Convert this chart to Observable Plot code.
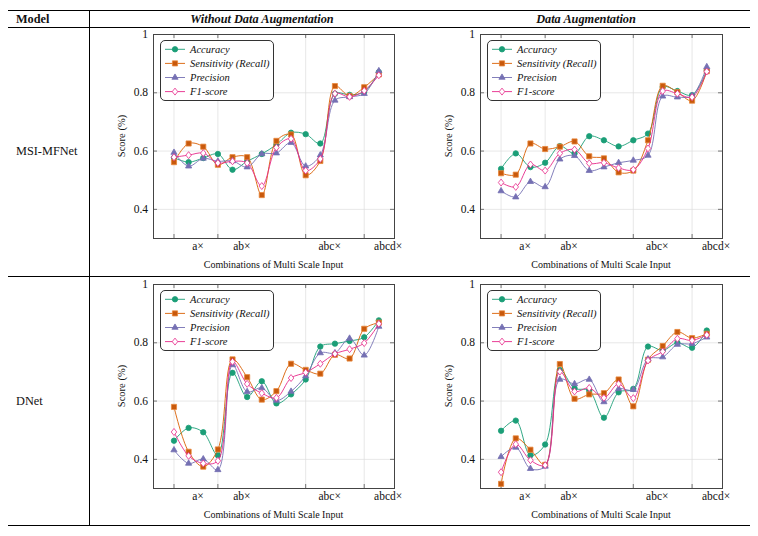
<!DOCTYPE html>
<html><head><meta charset="utf-8">
<script src="https://cdn.jsdelivr.net/npm/d3@7"></script>
<script src="https://cdn.jsdelivr.net/npm/@observablehq/plot@0.6"></script>
<style>
body{margin:0;background:#fff;}
#page{position:relative;width:758px;height:536px;font-family:"Liberation Serif","Times New Roman",serif;color:#111;overflow:hidden;background:#fff}
#page div{position:absolute;white-space:nowrap;line-height:1}
#page svg text{font-family:"Liberation Serif","Times New Roman",serif !important}
</style></head><body><div id="page"></div>
<script>
// ---------- data ----------
const combos = [1,2,3,4,5,6,7,8,9,10,11,12,13,14,15];
const tickPositions = [1,4,10,14];
const tickLabels = ["a×","ab×","abc×","abcd×"];
const yTicks = [0.4,0.6,0.8,1];
const metrics = ["Accuracy","Sensitivity (Recall)","Precision","F1-score"];
const colors = ["#1b9e77","#d95f02","#7570b3","#e7298a"];
const models = ["MSI-MFNet","DNet"];
const settings = ["Without Data Augmentation","Data Augmentation"];

const msiNoAugAccuracy    = [0.577,0.562,0.576,0.590,0.536,0.565,0.590,0.622,0.663,0.658,0.626,0.797,0.793,0.803,0.871];
const msiNoAugSensitivity = [0.562,0.626,0.615,0.553,0.579,0.579,0.449,0.635,0.657,0.517,0.566,0.823,0.789,0.819,0.863];
const msiNoAugPrecision   = [0.595,0.548,0.575,0.565,0.566,0.545,0.590,0.593,0.629,0.548,0.586,0.774,0.786,0.797,0.875];
const msiNoAugF1          = [0.579,0.586,0.593,0.559,0.565,0.559,0.480,0.612,0.642,0.533,0.573,0.797,0.786,0.807,0.860];

const msiAugAccuracy    = [0.539,0.592,0.545,0.560,0.617,0.592,0.651,0.637,0.616,0.637,0.660,0.820,0.806,0.792,0.877];
const msiAugSensitivity = [0.524,0.519,0.626,0.607,0.615,0.633,0.582,0.575,0.527,0.533,0.637,0.824,0.802,0.773,0.874];
const msiAugPrecision   = [0.463,0.442,0.495,0.477,0.572,0.584,0.533,0.545,0.560,0.568,0.585,0.788,0.785,0.790,0.889];
const msiAugF1          = [0.492,0.477,0.554,0.533,0.592,0.605,0.558,0.560,0.542,0.536,0.609,0.806,0.797,0.785,0.873];

const dnetNoAugAccuracy    = [0.464,0.508,0.493,0.414,0.697,0.614,0.668,0.592,0.623,0.674,0.787,0.797,0.806,0.819,0.877];
const dnetNoAugSensitivity = [0.580,0.426,0.375,0.434,0.743,0.682,0.605,0.634,0.728,0.707,0.694,0.759,0.746,0.848,0.869];
const dnetNoAugPrecision   = [0.432,0.386,0.401,0.364,0.724,0.632,0.645,0.602,0.633,0.686,0.765,0.765,0.815,0.757,0.856];
const dnetNoAugF1          = [0.494,0.412,0.386,0.395,0.735,0.659,0.627,0.611,0.679,0.698,0.728,0.762,0.778,0.799,0.865];

const dnetAugAccuracy    = [0.498,0.533,0.414,0.451,0.707,0.644,0.636,0.543,0.630,0.642,0.787,0.774,0.800,0.783,0.842];
const dnetAugSensitivity = [0.316,0.472,0.433,0.381,0.727,0.608,0.623,0.627,0.674,0.582,0.742,0.789,0.837,0.816,0.831];
const dnetAugPrecision   = [0.409,0.441,0.368,0.376,0.674,0.659,0.674,0.597,0.642,0.639,0.744,0.751,0.794,0.797,0.819];
const dnetAugF1          = [0.356,0.452,0.397,0.380,0.701,0.633,0.645,0.611,0.659,0.610,0.739,0.770,0.814,0.808,0.827];

// ---------- styles ----------
const diamondSym = {draw(ctx, size){const r=Math.sqrt(size/Math.PI);const w=r*0.95,h=r*1.2;ctx.moveTo(0,-h);ctx.lineTo(w,0);ctx.lineTo(0,h);ctx.lineTo(-w,0);ctx.closePath();}};
const markerStyles = [
  {symbol:"circle", r:2.7, fill:"#1b9e77", stroke:"#1b9e77", d3sym:d3.symbolCircle},
  {symbol:"square", r:2.9, fill:"#c8590c", stroke:"#e8873a", d3sym:d3.symbolSquare},
  {symbol:"triangle", r:2.3, fill:"#7570b3", stroke:"#7570b3", d3sym:d3.symbolTriangle},
  {symbol:diamondSym, r:2.9, fill:"#fff", stroke:"#e7298a", d3sym:diamondSym}
];
const serif = '"Liberation Serif","Times New Roman",serif';

const page = document.getElementById("page");
function addDiv(css, text){const d=document.createElement("div");d.style.cssText=css;if(text!=null)d.textContent=text;page.appendChild(d);return d;}

// ---------- table rules ----------
addDiv("left:8px;top:10px;width:742px;height:1.4px;background:#000");
addDiv("left:8px;top:26.5px;width:742px;height:0.8px;background:#000");
addDiv("left:8px;top:276px;width:742px;height:0.8px;background:#000");
addDiv("left:8px;top:525px;width:742px;height:1.4px;background:#000");
addDiv("left:88.5px;top:10px;width:0.8px;height:516px;background:#000");

// header
addDiv("left:16px;top:12.5px;font-size:12.3px;font-weight:bold", "Model");
addDiv("left:262px;top:12.5px;font-size:12.3px;font-weight:bold;font-style:italic;transform:translateX(-50%)", settings[0]);
addDiv("left:586px;top:12.5px;font-size:12.3px;font-weight:bold;font-style:italic;transform:translateX(-50%)", settings[1]);
// row labels
addDiv("left:16px;top:145px;font-size:12.3px", models[0]);
addDiv("left:16px;top:395px;font-size:12.3px", models[1]);

// ---------- panels ----------
const colGeom = [{left:100,width:300,mL:53,mR:6},{left:420,width:310,mL:60,mR:8}];
const rowGeom = [{top:28,height:240,mT:6,mB:30},{top:278,height:240,mT:6,mB:30}];
const panelSeries = [
  [[msiNoAugAccuracy,msiNoAugSensitivity,msiNoAugPrecision,msiNoAugF1],[msiAugAccuracy,msiAugSensitivity,msiAugPrecision,msiAugF1]],
  [[dnetNoAugAccuracy,dnetNoAugSensitivity,dnetNoAugPrecision,dnetNoAugF1],[dnetAugAccuracy,dnetAugSensitivity,dnetAugPrecision,dnetAugF1]]
];

function makePanel(series, cg, rg){
  const fw = cg.width - cg.mL - cg.mR, fh = rg.height - rg.mT - rg.mB;
  const marks = [
    Plot.gridX(tickPositions,{stroke:"#dcdcdc",strokeOpacity:1,strokeWidth:0.7}),
    Plot.gridY(yTicks,{stroke:"#dcdcdc",strokeOpacity:1,strokeWidth:0.7}),
    Plot.tickY(yTicks,{y:d=>d,stroke:"#555",strokeWidth:0.8,insetRight:fw-4}),
    Plot.tickY(yTicks,{y:d=>d,stroke:"#555",strokeWidth:0.8,insetLeft:fw-4}),
    Plot.tickX(tickPositions,{x:d=>d,stroke:"#555",strokeWidth:0.8,insetTop:fh-4}),
    Plot.tickX(tickPositions,{x:d=>d,stroke:"#555",strokeWidth:0.8,insetBottom:fh-4}),
    Plot.axisY(yTicks,{label:null,tickSize:0,tickPadding:5.5,fontSize:11.5,fontFamily:serif,fill:"#111",tickFormat:d=>d===1?"1":d.toFixed(1)}),
    Plot.axisX(tickPositions,{label:null,tickSize:0,tickPadding:3,fontSize:11.5,fontFamily:serif,fill:"#111",dx:24,tickFormat:d=>tickLabels[tickPositions.indexOf(d)]})
  ];
  series.forEach((vals,i)=>{
    const data = vals.map((v,j)=>({k:combos[j],v}));
    const ms = markerStyles[i];
    marks.push(Plot.line(data,{x:"k",y:"v",stroke:colors[i],strokeWidth:0.9,curve:"catmull-rom"}));
    marks.push(Plot.dot(data,{x:"k",y:"v",symbol:ms.symbol,r:ms.r,fill:ms.fill,stroke:ms.stroke,strokeWidth:0.8}));
  });
  marks.push(Plot.frame({stroke:"#444",strokeWidth:1}));
  const svg = Plot.plot({
    width:cg.width,height:rg.height,
    marginLeft:cg.mL,marginRight:cg.mR,marginTop:rg.mT,marginBottom:rg.mB,
    x:{domain:[-0.4,16.07],axis:null},
    y:{domain:[0.3,1],axis:null},
    style:{fontFamily:serif,color:"#111",background:"transparent",overflow:"visible"},
    marks
  });
  const holder = addDiv(`left:${cg.left}px;top:${rg.top}px;width:${cg.width}px;height:${rg.height}px`);
  holder.appendChild(svg);

  const fl = cg.left + cg.mL, ft = rg.top + rg.mT;
  addDiv(`left:${fl-31}px;top:${ft+fh/2}px;font-size:10.5px;transform:translate(-50%,-50%) rotate(-90deg)`, "Score (%)");
  addDiv(`left:${fl+fw/2}px;top:${ft+fh+22}px;font-size:10px;transform:translateX(-50%)`, "Combinations of Multi Scale Input");
  const lg = addDiv(`left:${fl+6.5}px;top:${ft+6}px;width:112px;height:59px;border:1px solid #333;border-radius:5px;background:#fff`);
  const ns="http://www.w3.org/2000/svg";
  const lsvg = document.createElementNS(ns,"svg");
  lsvg.setAttribute("width",112);lsvg.setAttribute("height",59);
  lsvg.style.position="absolute";lsvg.style.left="0";lsvg.style.top="0";
  const sel = d3.select(lsvg);
  metrics.forEach((m,i)=>{
    const yy = 8.3 + i*14.1;
    const ms = markerStyles[i];
    sel.append("line").attr("x1",4).attr("x2",24).attr("y1",yy).attr("y2",yy).attr("stroke",colors[i]).attr("stroke-width",0.9);
    sel.append("path").attr("transform",`translate(14,${yy})`).attr("d",d3.symbol(ms.d3sym, Math.PI*ms.r*ms.r)()).attr("fill",ms.fill).attr("stroke",ms.stroke).attr("stroke-width",0.8);
    sel.append("text").attr("x",29).attr("y",yy).attr("dy","0.35em").style("font-size","10.5px").style("font-style","italic").attr("fill","#111").text(m);
  });
  lg.appendChild(lsvg);
}
rowGeom.forEach((rg,ri)=>colGeom.forEach((cg,ci)=>makePanel(panelSeries[ri][ci],cg,rg)));
</script>
</body></html>
